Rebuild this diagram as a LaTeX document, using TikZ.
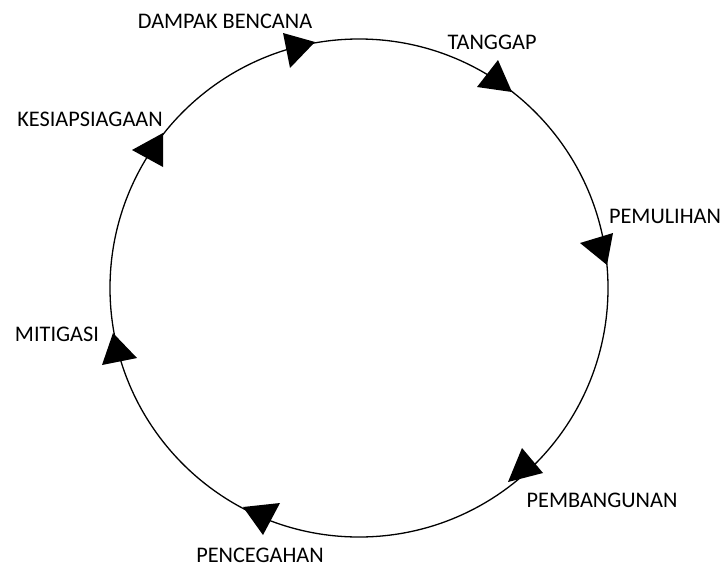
\documentclass[tikz,border=0pt]{standalone}
\usepackage{fontspec}
\setmainfont{Carlito}
\begin{document}
\begin{tikzpicture}[x=1pt,y=-1pt,
  lbl/.style={font=\fontsize{22.3}{26}\selectfont, inner sep=0pt, anchor=center},
  tri/.style={fill=black}]
\useasboundingbox[fill=white] (0,0) rectangle (725,568);
\coordinate (c) at (359,288);
\draw[line width=1.3pt] (c) circle (249pt);
% arrowheads (clockwise)
\fill[tri] (283,33) -- (315,42) -- (290,68) -- cycle;
\fill[tri] (498,60) -- (512,92) -- (477,87) -- cycle;
\fill[tri] (580,243) -- (613,233) -- (607,265) -- cycle;
\fill[tri] (522,448) -- (543,473) -- (508,482) -- cycle;
\fill[tri] (243,507) -- (280,503) -- (263,535) -- cycle;
\fill[tri] (113,333) -- (137,358) -- (102,365) -- cycle;
\fill[tri] (163,133) -- (163,167) -- (132,150) -- cycle;
% labels
\node[lbl] (dampak) at (225,21) {DAMPAK BENCANA};
\node[lbl] (tanggap) at (492,42) {TANGGAP};
\node[lbl] (pemulihan) at (665,216) {PEMULIHAN};
\node[lbl] (pembangunan) at (602,500) {PEMBANGUNAN};
\node[lbl] (pencegahan) at (260,555) {PENCEGAHAN};
\node[lbl] (mitigasi) at (57,334) {MITIGASI};
\node[lbl] (kesiap) at (90,119) {KESIAPSIAGAAN};
\end{tikzpicture}
\end{document}
